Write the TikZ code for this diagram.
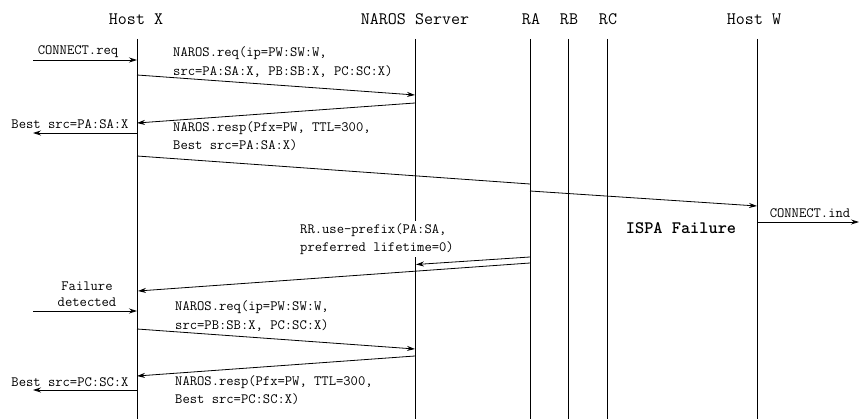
\documentclass[tikz,border=0pt]{standalone}
\usepackage{fontspec}
\usetikzlibrary{arrows.meta}
\begin{document}
\begin{tikzpicture}[x=1pt,y=-1pt,
  life/.style={line width=0.8pt,draw=black},
  msgline/.style={line width=0.8pt,-{Stealth[length=8pt,width=5pt]}},
  plainline/.style={line width=0.8pt},
  head/.style={font=\ttfamily\fontsize{17.5}{20}\selectfont,inner sep=0pt},
  lbl/.style={font=\ttfamily\fontsize{14.2}{18.5}\selectfont,inner sep=0pt,align=left},
  clbl/.style={font=\ttfamily\fontsize{14.2}{16}\selectfont,inner sep=0pt,align=center},
]
\useasboundingbox (0,0) rectangle (859,419);
% headers
\node[head] (hX) at (136,19) {Host X};
\node[head] (hN) at (415,19) {NAROS Server};
\node[head] (hA) at (531,19) {RA};
\node[head] (hB) at (569,19) {RB};
\node[head] (hC) at (608,19) {RC};
\node[head] (hW) at (754,19) {Host W};
% lifelines
\coordinate (Xt) at (137,39); \coordinate (Xb) at (137,419);
\coordinate (Nt) at (415,39); \coordinate (Nb) at (415,419);
\coordinate (At) at (530,39); \coordinate (Ab) at (530,419);
\coordinate (Bt) at (568,39); \coordinate (Bb) at (568,419);
\coordinate (Ct) at (607,39); \coordinate (Cb) at (607,419);
\coordinate (Wt) at (757,39); \coordinate (Wb) at (757,419);
\draw[life] (Xt) -- (Xb);
\draw[life] (Nt) -- (Nb);
\draw[life] (At) -- (Ab);
\draw[life] (Bt) -- (Bb);
\draw[life] (Ct) -- (Cb);
\draw[life] (Wt) -- (Wb);

% CONNECT.req
\node[lbl] (cr) at (78,52) {CONNECT.req};
\coordinate (cr0) at (33,60); \coordinate (cr1) at (137,60);
\draw[msgline] (cr0) -- (cr1);

% NAROS.req 1
\node[lbl,anchor=west] (nq1) at (173,62) {NAROS.req(ip=PW:SW:W,\\src=PA:SA:X, PB:SB:X, PC:SC:X)};
\coordinate (q1a) at (137,75); \coordinate (q1b) at (415,95);
\draw[msgline] (q1a) -- (q1b);

% NAROS.resp 1
\coordinate (r1a) at (415,103); \coordinate (r1b) at (137,123);
\draw[msgline] (r1a) -- (r1b);
\node[lbl,anchor=west] (nr1) at (173,136) {NAROS.resp(Pfx=PW, TTL=300,\\Best src=PA:SA:X)};
\node[lbl] (bs1) at (70,124) {Best src=PA:SA:X};
\coordinate (b1a) at (137,133); \coordinate (b1b) at (33,133);
\draw[msgline] (b1a) -- (b1b);

% data to Host W via RA
\coordinate (d0) at (137,156); \coordinate (d1) at (530,184);
\coordinate (d2) at (530,191); \coordinate (d3) at (757,206);
\draw[plainline] (d0) -- (d1);
\draw[msgline] (d2) -- (d3);
\node[lbl] (ci) at (810,213) {CONNECT.ind};
\coordinate (ci0) at (758,222); \coordinate (ci1) at (859,222);
\draw[msgline] (ci0) -- (ci1);

% ISPA failure
\node[font=\ttfamily\bfseries\fontsize{17.5}{20}\selectfont,inner sep=0pt] (isp) at (681,228) {ISPA Failure};

% RR.use-prefix
\node[lbl,anchor=west,fill=white,inner sep=2pt] (rr) at (298,239) {RR.use-prefix(PA:SA,\\preferred lifetime=0)};
\coordinate (u0) at (530,257); \coordinate (u1) at (416,264.5);
\draw[msgline] (u0) -- (u1);
\coordinate (v0) at (530,263); \coordinate (v1) at (138,291);
\draw[msgline] (v0) -- (v1);

% Failure detected
\node[clbl] (fd) at (87,294) {Failure\\detected};
\coordinate (f0) at (33,311); \coordinate (f1) at (137,311);
\draw[msgline] (f0) -- (f1);

% NAROS.req 2
\node[lbl,anchor=west] (nq2) at (175,316) {NAROS.req(ip=PW:SW:W,\\src=PB:SB:X, PC:SC:X)};
\coordinate (q2a) at (137,329); \coordinate (q2b) at (415,349);
\draw[msgline] (q2a) -- (q2b);

% NAROS.resp 2
\coordinate (r2a) at (415,356); \coordinate (r2b) at (137,376);
\draw[msgline] (r2a) -- (r2b);
\node[lbl,anchor=west] (nr2) at (175,390) {NAROS.resp(Pfx=PW, TTL=300,\\Best src=PC:SC:X)};
\node[lbl] (bs2) at (70,382) {Best src=PC:SC:X};
\coordinate (b2a) at (137,390); \coordinate (b2b) at (33,390);
\draw[msgline] (b2a) -- (b2b);
\end{tikzpicture}
\end{document}
